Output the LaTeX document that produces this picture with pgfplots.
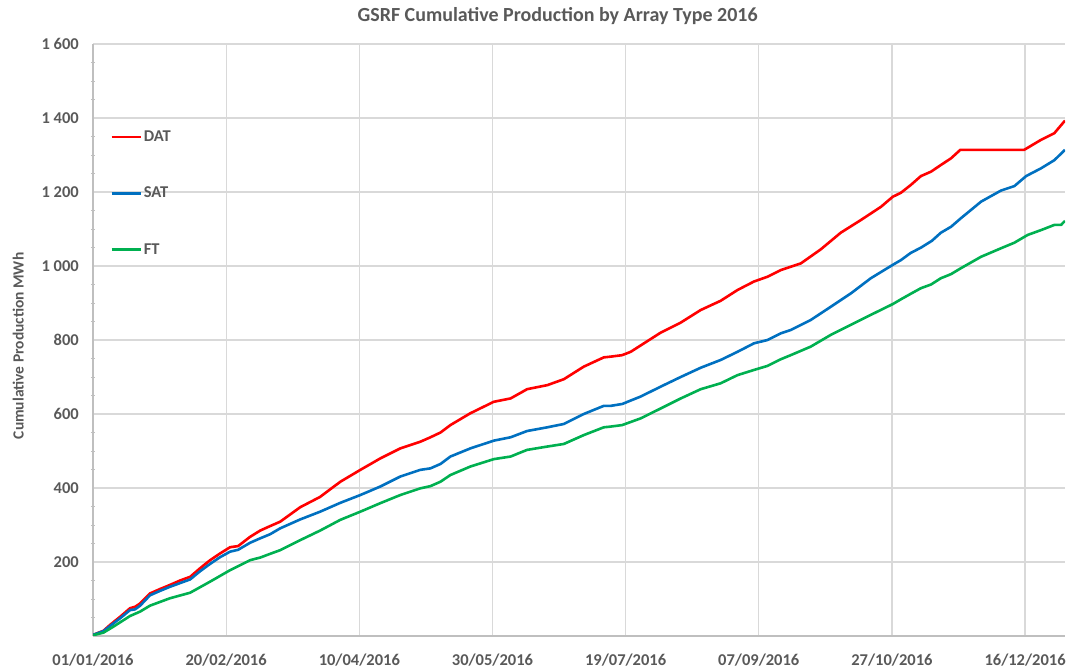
\documentclass[border=0pt]{standalone}
\usepackage{fontspec}
\setmainfont{Carlito}
\usepackage{pgfplots}
\pgfplotsset{compat=1.18}
\definecolor{txt}{HTML}{595959}
\definecolor{gridc}{HTML}{D9D9D9}
\definecolor{axc}{HTML}{BFBFBF}
\definecolor{cdat}{HTML}{FF0000}
\definecolor{csat}{HTML}{0070C0}
\definecolor{cft}{HTML}{00B050}
\begin{document}
\begin{tikzpicture}
\useasboundingbox (0,0) rectangle (1080pt,669pt);
\begin{axis}[
  at={(93pt,33pt)}, anchor=south west,
  width=972pt, height=592pt, scale only axis,
  xmin=0, xmax=365, ymin=0, ymax=1600,
  axis x line=bottom, axis y line=left,
  axis line style={draw=axc, line width=1.2pt, -},
  xtick={0,50,100,150,200,250,300,350},
  xticklabels={01/01/2016,20/02/2016,10/04/2016,30/05/2016,19/07/2016,07/09/2016,27/10/2016,16/12/2016},
  ytick={200,400,600,800,1000,1200,1400,1600},
  yticklabels={200,400,600,800,1 000,1 200,1 400,1 600},
  minor ytick={50,100,150,250,300,350,450,500,550,650,700,750,850,900,950,1050,1100,1150,1250,1300,1350,1450,1500,1550},
  major tick length=0pt, minor tick length=4pt,
  every minor tick/.style={draw=axc, line width=0.9pt},
  grid=major, major grid style={draw=gridc, line width=1.2pt},
  tick label style={font=\bfseries\fontsize{16.5}{19}\selectfont, text=txt},
  xticklabel style={anchor=base, yshift=-30pt},
  yticklabel style={anchor=east, xshift=-14pt, inner sep=0pt},
  title={GSRF Cumulative Production by Array Type 2016},
  every axis title/.style={at={(axis description cs:0.478,1.047)}, anchor=center, font=\bfseries\fontsize{20}{23}\selectfont, text=txt},
  ylabel={Cumulative Production MWh},
  every axis y label/.style={at={(axis description cs:-0.077,0.49)}, rotate=90, anchor=center, font=\bfseries\fontsize{15.5}{18}\selectfont, text=txt},
  legend style={draw=none, fill=none, at={(axis description cs:0.0175,0.857)}, anchor=north west, inner sep=0pt, row sep=40pt, font=\bfseries\fontsize{16.5}{19}\selectfont, text=txt, legend cell align=left},
  legend image code/.code={\draw[#1] (0pt,0pt) -- (29pt,0pt);},
  every axis plot/.append style={line width=2.6pt, line join=round},
]
\addplot[cdat] coordinates {
(0,3) (3.9,14) (6.4,30) (10.2,52) (13.9,75) (15.8,79) (17.7,88) (21.4,115) (25.2,127) (28.9,138)
(32.7,150) (36.5,160) (40.2,183) (44,205) (47.7,223) (51.5,240) (54.5,243) (59,268) (62.8,285) (66.5,297)
(70.3,309) (77.8,348) (85.3,376) (92.9,417) (100.4,449) (107.9,480) (115.4,507) (122.9,525) (126.7,537) (130.5,550)
(134.2,570) (141.7,602) (150.5,633) (156.8,642) (163,667) (170.6,678) (176.8,694) (184.3,728) (191.8,753) (194.4,755)
(198.7,759) (201.9,768) (206.9,791) (213.2,820) (220.7,847) (228.2,881) (235.7,906) (242,935) (248.2,958) (253.3,971)
(258.3,989) (265.8,1007) (273.3,1045) (280.8,1090) (288.3,1124) (295.9,1160) (300.3,1187) (303.4,1198) (307.1,1219)
(310.9,1243) (314.7,1255) (318.4,1273) (322.2,1291) (325.7,1314) (349.7,1314) (356,1341) (361,1359) (365,1393)
};
\addlegendentry{DAT}
\addplot[csat] coordinates {
(0,3) (3.9,13) (6.4,27) (10.2,48) (13.9,70) (15.8,72) (17.7,82) (21.4,110) (25.2,122) (28.9,133)
(32.7,143) (36.5,153) (40.2,175) (44,195) (47.7,213) (51.5,228) (54.5,233) (59,252) (62.8,264) (66.5,275)
(70.3,291) (77.8,315) (85.3,336) (92.9,360) (100.4,381) (107.9,404) (115.4,431) (122.9,449) (126.7,453) (130.5,465)
(134.2,485) (141.7,507) (150.5,528) (156.8,537) (163,554) (170.6,564) (176.8,573) (184.3,600) (191.8,622) (194.4,622)
(198.7,627) (205.6,647) (213.2,674) (220.7,700) (228.2,725) (235.7,746) (242,768) (248.2,791) (253.3,800) (258.3,818)
(262,827) (269.5,854) (277.1,890) (284.6,926) (292.1,967) (300.3,1003) (303.4,1016) (307,1035) (311,1050)
(315,1068) (318.4,1090) (322.2,1106) (325.9,1129) (333.5,1174) (341,1204) (346,1216) (350.4,1243) (356,1264) (361,1286) (365,1314)
};
\addlegendentry{SAT}
\addplot[cft] coordinates {
(0,2) (3.9,9) (7.6,25) (13.9,54) (17.7,66) (21.4,82) (28.9,102) (36.5,117) (44,147) (51.5,178)
(59,205) (62.8,212) (66.5,222) (70.3,232) (77.8,259) (85.3,285) (92.9,314) (100.4,336) (107.9,359) (115.4,381)
(122.9,399) (126.7,405) (130.5,417) (134.2,435) (141.7,458) (150.5,478) (156.8,485) (163,503) (170.6,512) (176.8,519)
(184.3,543) (191.8,564) (194.4,566) (198.7,570) (205.6,588) (213.2,615) (220.7,642) (228.2,667) (235.7,683) (242,705)
(248.2,719) (253.3,730) (258.3,748) (262,759) (269.5,782) (277.1,814) (284.6,841) (292.1,868) (300.3,897) (303.4,910)
(307.1,925) (310.9,940) (314.7,950) (318.4,967) (322.2,978) (325.9,994) (333.5,1025) (341,1048) (346,1063) (351,1084)
(356,1097) (361,1111) (363.5,1111) (365,1122)
};
\addlegendentry{FT}
\end{axis}
\end{tikzpicture}
\end{document}
